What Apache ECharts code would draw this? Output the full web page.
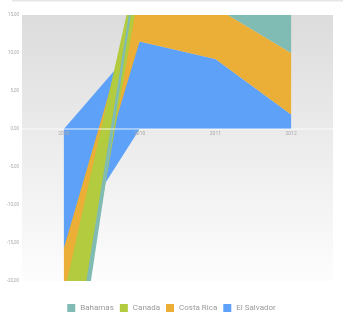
<!DOCTYPE html>
<html>
<head>
<meta charset="utf-8">
<script src="https://cdn.jsdelivr.net/npm/echarts@6/dist/echarts.min.js"></script>
<style>
  html, body { margin: 0; padding: 0; background: #fff; }
  #chart { width: 343px; height: 320px; }
</style>
</head>
<body>
<div id="chart"></div>
<script>
// Years on the horizontal axis
const years = ['2009', '2010', '2011', '2012'];

// Yearly values per country
const bahamas    = [-5.2, 1.2, 3.0, 5.5];
const canada     = [-16.7, 4.1, 0, 0];
const costaRica  = [-6.1, 7.1, 6.8, 8.1];
const elSalvador = [-15.7, 11.5, 9.2, 1.9];

// Legend order
const legendNames = ['Bahamas', 'Canada', 'Costa Rica', 'El Salvador'];

// Stack order, bottom to top
const stackOrder = [
  { name: 'El Salvador', values: elSalvador, color: '#5EA1F8' },
  { name: 'Costa Rica',  values: costaRica,  color: '#EBAE36' },
  { name: 'Canada',      values: canada,     color: '#B3CB3F' },
  { name: 'Bahamas',     values: bahamas,    color: '#80BBB4' }
];

// Positive values pile up from zero, negative values pile down from zero.
// Each country's band spans from the lower to the upper end of its segment.
const posSum = years.map(() => 0);
const negSum = years.map(() => 0);
const series = [];
stackOrder.forEach((s, k) => {
  const lower = [];
  const span = [];
  s.values.forEach((v, i) => {
    const base = v >= 0 ? posSum[i] : negSum[i];
    const end = base + v;
    if (v >= 0) posSum[i] = end; else negSum[i] = end;
    lower.push(Math.min(base, end));
    span.push(Math.abs(v));
  });
  series.push({
    type: 'line', name: s.name + ' (base)', stack: 'band' + k, stackStrategy: 'all',
    data: lower, symbol: 'none', silent: true,
    lineStyle: { width: 0, opacity: 0 }
  });
  series.push({
    type: 'line', name: s.name, stack: 'band' + k, stackStrategy: 'all',
    data: span, symbol: 'none',
    lineStyle: { width: 0, opacity: 0 },
    itemStyle: { color: s.color },
    areaStyle: { color: s.color, opacity: 1 }
  });
});

const chart = echarts.init(document.getElementById('chart'), null, { renderer: 'canvas' });
const baseOption = {
  animation: false,
  textStyle: { fontFamily: 'Roboto, Liberation Sans, sans-serif' },
  grid: {
    left: 26, right: 14, top: 15, bottom: 39,
    show: false
  },
  xAxis: {
    type: 'category',
    data: years,
    boundaryGap: true,
    z: 60,
    axisLine: { show: false },
    axisTick: { show: false },
    splitLine: { show: false },
    axisLabel: { color: '#aaaaaa', fontSize: 5, margin: 2 }
  },
  yAxis: {
    type: 'value',
    min: -20, max: 15, interval: 5,
    axisLine: { show: false },
    axisTick: { show: false },
    splitLine: { show: false },
    axisLabel: {
      formatter: v => v.toFixed(2).replace('.', ','),
      color: '#aaaaaa', fontSize: 4.5, margin: 7
    }
  },
  legend: {
    data: legendNames,
    icon: 'rect', itemWidth: 8, itemHeight: 8, itemGap: 6,
    top: 299, left: 'center',
    textStyle: { color: '#9a9a9a', fontSize: 8 }
  },
  series: series
};
chart.setOption(baseOption);

// The year labels sit on the zero rule; the backdrop is a little wider than the bands
const zeroY = chart.convertToPixel({ yAxisIndex: 0 }, 0);
const topY = chart.convertToPixel({ yAxisIndex: 0 }, 15);
const bottomY = chart.convertToPixel({ yAxisIndex: 0 }, -20);
chart.setOption({
  xAxis: { offset: zeroY - bottomY },
  graphic: [
    {
      type: 'rect', left: 12, top: 0, z: -10, silent: true,
      shape: { width: 331, height: 1.5 },
      style: { fill: '#e6e6e6' }
    },
    {
      type: 'rect', z: -10, silent: true,
      shape: { x: 22, y: topY, width: 311, height: bottomY - topY },
      style: {
        fill: new echarts.graphic.LinearGradient(0, 0, 0, 1, [
          { offset: 0, color: '#dcdcdc' },
          { offset: 0.45, color: '#ebebeb' },
          { offset: 1, color: '#fdfdfd' }
        ])
      }
    },
    {
      type: 'line', z: 50, silent: true,
      shape: { x1: 22, y1: zeroY, x2: 333, y2: zeroY },
      style: { stroke: 'rgba(255,255,255,0.85)', lineWidth: 1 }
    }
  ]
});
</script>
</body>
</html>
